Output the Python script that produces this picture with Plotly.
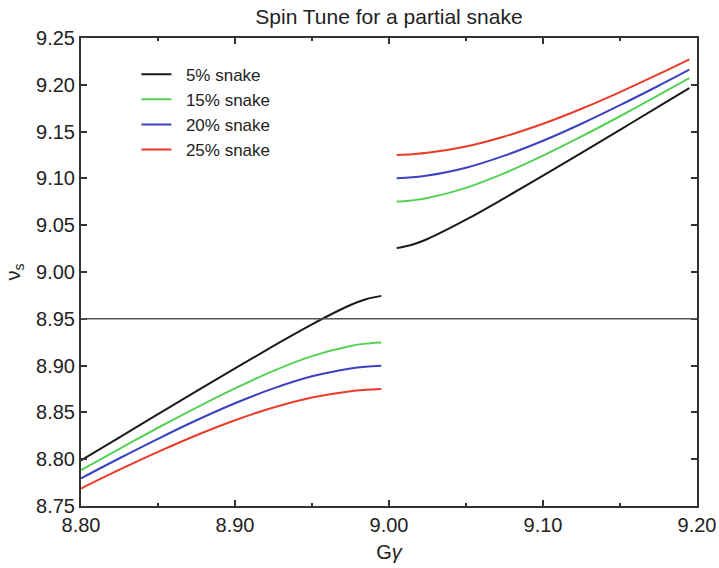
import plotly.graph_objects as go

# Gamma-G values (left and right of the integer 9)
x_left = [8.800, 8.825, 8.850, 8.875, 8.900, 8.925, 8.950, 8.975, 8.985, 8.995]
x_right = [9.005, 9.015, 9.025, 9.050, 9.075, 9.100, 9.125, 9.150, 9.175, 9.195]

labels = ["5% snake", "15% snake", "20% snake", "25% snake"]
colors = ["#1a1a1a", "#55d155", "#3b42c0", "#ea3b2b"]

nu_left = [
    [8.7987, 8.8234, 8.8481, 8.8727, 8.8970, 8.9210, 8.9441, 8.9647, 8.9709, 8.9745],
    [8.7882, 8.8111, 8.8336, 8.8552, 8.8757, 8.8944, 8.9101, 8.9210, 8.9235, 8.9248],
    [8.7795, 8.8010, 8.8218, 8.8416, 8.8598, 8.8757, 8.8886, 8.8970, 8.8989, 8.8999],
    [8.7687, 8.7888, 8.8078, 8.8256, 8.8416, 8.8552, 8.8659, 8.8727, 8.8741, 8.8749],
]
nu_right = [
    [9.0255, 9.0291, 9.0353, 9.0559, 9.0790, 9.1030, 9.1273, 9.1519, 9.1766, 9.1964],
    [9.0752, 9.0765, 9.0790, 9.0899, 9.1056, 9.1243, 9.1448, 9.1664, 9.1889, 9.2072],
    [9.1001, 9.1011, 9.1030, 9.1114, 9.1243, 9.1402, 9.1584, 9.1782, 9.1990, 9.2162],
    [9.1251, 9.1259, 9.1273, 9.1341, 9.1448, 9.1584, 9.1744, 9.1922, 9.2113, 9.2272],
]

ref_level = 8.95
x_ticks = [8.80, 8.90, 9.00, 9.10, 9.20]
y_ticks = [8.75, 8.80, 8.85, 8.90, 8.95, 9.00, 9.05, 9.10, 9.15, 9.20, 9.25]

fig = go.Figure()
for i in range(4):
    fig.add_trace(go.Scatter(x=x_left, y=nu_left[i], mode="lines",
                             name="\u00a0\u00a0" + labels[i],
                             legendgroup=labels[i],
                             line=dict(color=colors[i], width=2, shape="spline")))
    fig.add_trace(go.Scatter(x=x_right, y=nu_right[i], mode="lines", name=labels[i],
                             legendgroup=labels[i], showlegend=False,
                             line=dict(color=colors[i], width=2, shape="spline")))

fig.add_hline(y=ref_level, line=dict(color="#555555", width=1.5))

axis_common = dict(
    showline=True, linecolor="#333333", linewidth=2, mirror="ticks",
    ticks="inside", tickcolor="#333333", tickwidth=1.5, ticklen=6,
    showgrid=False, zeroline=False, automargin=False,
    tickfont=dict(size=20, color="#222222"),
)

fig.update_xaxes(range=[8.80, 9.20], tickvals=x_ticks,
                 ticktext=[f"{v:.2f}" for v in x_ticks],
                 minor=dict(ticks="inside", dtick=0.05, tick0=8.80, ticklen=3,
                            tickcolor="#333333", tickwidth=1.5),
                 title=dict(text="G<i>γ</i>", font=dict(size=20, color="#222222"), standoff=10),
                 **axis_common)
fig.update_yaxes(range=[8.75, 9.25], tickvals=y_ticks,
                 ticktext=[f"{v:.2f}" for v in y_ticks],
                 title=dict(text="ν<sub>s</sub>", font=dict(size=20, color="#222222"), standoff=10),
                 **axis_common)

fig.update_layout(
    width=719, height=568,
    margin=dict(l=81, r=22, t=38, b=62),
    paper_bgcolor="white", plot_bgcolor="white",
    font=dict(family="Liberation Sans, Arial, sans-serif", color="#222222"),
    title=dict(text="Spin Tune for a partial snake", x=0.541, xanchor="center",
               y=0.97, yanchor="middle", font=dict(size=21, color="#222222")),
    legend=dict(x=0.090, y=0.960, xanchor="left", yanchor="top",
                bgcolor="rgba(0,0,0,0)", font=dict(size=17, color="#222222"),
                tracegroupgap=0),
    showlegend=True,
)

fig.write_html("out.html")
